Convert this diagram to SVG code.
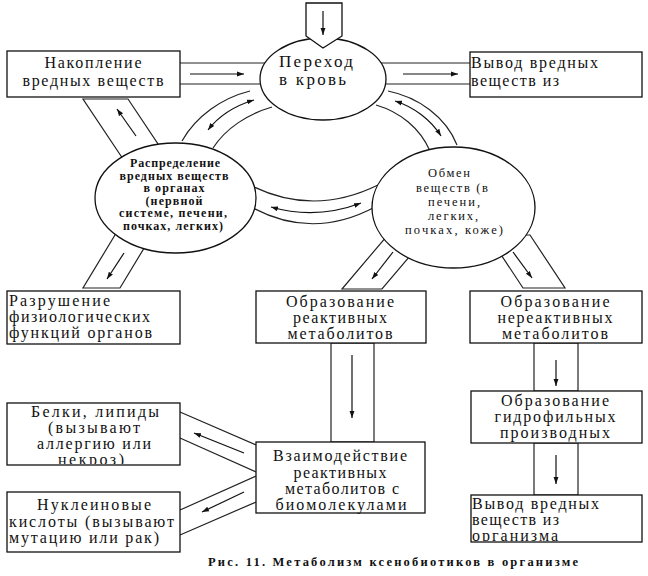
<svg xmlns="http://www.w3.org/2000/svg" width="648" height="576" viewBox="0 0 648 576">
<style>
.t{font-family:"Liberation Serif","Times New Roman",serif;font-size:16px;fill:#111}
.tb{font-family:"Liberation Serif","Times New Roman",serif;font-size:17px;fill:#111}
.s{font-family:"Liberation Serif","Times New Roman",serif;font-size:12.5px;fill:#111}
.sb{font-family:"Liberation Serif","Times New Roman",serif;font-size:12px;font-weight:bold;fill:#111}
.cap{font-family:"Liberation Serif","Times New Roman",serif;font-size:12.5px;font-weight:bold;fill:#111}
.box{fill:#fff;stroke:#111;stroke-width:1.3}
.ln{fill:none;stroke:#222;stroke-width:1.2}
.ar{fill:none;stroke:#111;stroke-width:1.2;marker-end:url(#ah)}
.ar2{fill:none;stroke:#111;stroke-width:1.2;marker-end:url(#ah);marker-start:url(#ah)}
</style>
<defs>
<marker id="ah" viewBox="0 0 10 10" refX="10" refY="5" markerWidth="7" markerHeight="7" orient="auto-start-reverse" markerUnits="userSpaceOnUse"><path d="M0,1.5 L10,5 L0,8.5 z" fill="#111"/></marker>
<clipPath id="cBelki"><rect x="8" y="404" width="171" height="60"/></clipPath>
<clipPath id="cVyvod2"><rect x="472" y="496" width="169" height="45"/></clipPath>
</defs>
<rect width="648" height="576" fill="#fff"/>

<g id="connectors">
  <path class="ln" d="M180,63 H290 M180,84 H290"/>
  <path class="ar" d="M190,74 H244"/>
  <path class="ln" d="M360,63 H470 M360,84 H470"/>
  <path class="ar" d="M403,74 H458"/>
  <path class="ln" d="M250,91 C222,98 196,116 182,141"/>
  <path class="ln" d="M272,107 C248,114 226,128 213,148"/>
  <path class="ar2" d="M208,130 C218,117 234,106 254,100"/>
  <path class="ln" d="M388,91 C418,97 446,117 457,145"/>
  <path class="ln" d="M376,105 C400,112 420,128 430,151"/>
  <path class="ar2" d="M395,101 C414,107 431,120 441,136"/>
  <path class="ln" d="M250,185 Q313,217 378,185"/>
  <path class="ln" d="M253,208 Q313,240 375,207"/>
  <path class="ar2" d="M271,207 Q316,220 361,203"/>
  <path class="ln" d="M83,99 H128 L172,165 L127,165 Z"/>
  <path class="ar" d="M136,136 L117,109"/>
  <path class="ln" d="M83,288 H120 L158,225 L121,225 Z"/>
  <path class="ar" d="M124,253 L107,279"/>
  <path class="ln" d="M342,289 H382 L432,230 L392,230 Z"/>
  <path class="ar" d="M393,252 L372,279"/>
  <path class="ln" d="M523,288 H565 L530,235 L488,235 Z"/>
  <path class="ar" d="M513,252 L532,278"/>
  <rect class="ln" x="331" y="343" width="43" height="99"/>
  <path class="ar" d="M352,355 V418"/>
  <rect class="ln" x="534" y="343" width="44" height="48"/>
  <path class="ar" d="M556,360 V386"/>
  <rect class="ln" x="534" y="443" width="44" height="52"/>
  <path class="ar" d="M556,455 V484"/>
  <path class="ln" d="M180,412 L256,445 M180,438 L256,472"/>
  <path class="ar" d="M244,453 L194,433"/>
  <path class="ln" d="M180,510 L256,476 M180,535 L256,502"/>
  <path class="ar" d="M244,492 L202,512"/>
</g>

<g id="n-perehod">
  <ellipse class="box" cx="323" cy="79" rx="63" ry="41"/>
  <text class="tb" x="279" y="67" textLength="74" lengthAdjust="spacing">Переход</text>
  <text class="tb" x="279" y="85" textLength="67" lengthAdjust="spacing">в кровь</text>
</g>
<g id="input">
  <polygon class="box" points="306,3 342,3 342,36 323,48 306,36"/>
  <path class="ar" d="M323,11 V35"/>
</g>
<g id="n-nakoplenie">
  <rect class="box" x="7" y="51" width="173" height="46"/>
  <text class="t" x="93" y="68" text-anchor="middle" textLength="97" lengthAdjust="spacing">Накопление</text>
  <text class="t" x="93" y="86" text-anchor="middle" textLength="141" lengthAdjust="spacing">вредных веществ</text>
</g>
<g id="n-vyvod1">
  <rect class="box" x="470" y="52" width="172" height="45"/>
  <text class="t" x="471" y="68" textLength="127" lengthAdjust="spacing">Вывод вредных</text>
  <text class="t" x="471" y="86" textLength="88" lengthAdjust="spacing">веществ из</text>
</g>
<g id="n-raspredelenie">
  <ellipse class="box" cx="175.5" cy="198" rx="80.5" ry="55"/>
  <text class="sb" x="175" y="167" text-anchor="middle" textLength="90" lengthAdjust="spacing">Распределение</text>
  <text class="sb" x="174" y="179.5" text-anchor="middle" textLength="109" lengthAdjust="spacing">вредных веществ</text>
  <text class="sb" x="174" y="192" text-anchor="middle" textLength="61" lengthAdjust="spacing">в органах</text>
  <text class="sb" x="174" y="204.5" text-anchor="middle" textLength="57" lengthAdjust="spacing">(нервной</text>
  <text class="sb" x="173" y="217" text-anchor="middle" textLength="108" lengthAdjust="spacing">системе, печени,</text>
  <text class="sb" x="173" y="229.5" text-anchor="middle" textLength="100" lengthAdjust="spacing">почках, легких)</text>
</g>
<g id="n-obmen">
  <ellipse class="box" cx="453.5" cy="207.5" rx="81.5" ry="60.5"/>
  <text class="s" x="449" y="177" text-anchor="middle" textLength="42" lengthAdjust="spacing">Обмен</text>
  <text class="s" x="452" y="191.5" text-anchor="middle" textLength="72" lengthAdjust="spacing">веществ (в</text>
  <text class="s" x="454" y="206" text-anchor="middle" textLength="52" lengthAdjust="spacing">печени,</text>
  <text class="s" x="453" y="220" text-anchor="middle" textLength="50" lengthAdjust="spacing">легких,</text>
  <text class="s" x="454" y="234" text-anchor="middle" textLength="98" lengthAdjust="spacing">почках, коже)</text>
</g>
<g id="n-razrushenie">
  <rect class="box" x="7" y="291" width="173" height="53"/>
  <text class="t" x="9" y="306" textLength="101" lengthAdjust="spacing">Разрушение</text>
  <text class="t" x="9" y="322" textLength="141" lengthAdjust="spacing">физиологических</text>
  <text class="t" x="9" y="338" textLength="143" lengthAdjust="spacing">функций органов</text>
</g>
<g id="n-reaktivnye">
  <rect class="box" x="256" y="291" width="170" height="52"/>
  <text class="t" x="340" y="307" text-anchor="middle" textLength="108" lengthAdjust="spacing">Образование</text>
  <text class="t" x="340" y="323" text-anchor="middle" textLength="94" lengthAdjust="spacing">реактивных</text>
  <text class="t" x="340" y="339" text-anchor="middle" textLength="105" lengthAdjust="spacing">метаболитов</text>
</g>
<g id="n-nereaktivnye">
  <rect class="box" x="470" y="291" width="172" height="52"/>
  <text class="t" x="555" y="307" text-anchor="middle" textLength="109" lengthAdjust="spacing">Образование</text>
  <text class="t" x="555" y="323" text-anchor="middle" textLength="115" lengthAdjust="spacing">нереактивных</text>
  <text class="t" x="555" y="339" text-anchor="middle" textLength="106" lengthAdjust="spacing">метаболитов</text>
</g>
<g id="n-gidrofilnye">
  <rect class="box" x="471" y="391" width="171" height="52"/>
  <text class="t" x="555" y="406" text-anchor="middle" textLength="108" lengthAdjust="spacing">Образование</text>
  <text class="t" x="555" y="422" text-anchor="middle" textLength="121" lengthAdjust="spacing">гидрофильных</text>
  <text class="t" x="555" y="438" text-anchor="middle" textLength="110" lengthAdjust="spacing">производных</text>
</g>
<g id="n-vyvod2">
  <rect class="box" x="471" y="495" width="171" height="47"/>
  <g clip-path="url(#cVyvod2)">
    <text class="t" x="472" y="509" textLength="127" lengthAdjust="spacing">Вывод вредных</text>
    <text class="t" x="472" y="525" textLength="87" lengthAdjust="spacing">веществ из</text>
    <text class="t" x="472" y="541" textLength="86" lengthAdjust="spacing">организма</text>
  </g>
</g>
<g id="n-vzaimodeistvie">
  <rect class="box" x="256" y="442" width="169" height="71"/>
  <text class="t" x="340" y="461" text-anchor="middle" textLength="134" lengthAdjust="spacing">Взаимодействие</text>
  <text class="t" x="340" y="477.5" text-anchor="middle" textLength="93" lengthAdjust="spacing">реактивных</text>
  <text class="t" x="342" y="494" text-anchor="middle" textLength="114" lengthAdjust="spacing">метаболитов с</text>
  <text class="t" x="341" y="510" text-anchor="middle" textLength="131" lengthAdjust="spacing">биомолекулами</text>
</g>
<g id="n-belki">
  <rect class="box" x="7" y="403" width="173" height="62"/>
  <g clip-path="url(#cBelki)">
    <text class="t" x="95" y="417" text-anchor="middle" textLength="128" lengthAdjust="spacing">Белки, липиды</text>
    <text class="t" x="94" y="433" text-anchor="middle" textLength="92" lengthAdjust="spacing">(вызывают</text>
    <text class="t" x="94" y="449" text-anchor="middle" textLength="114" lengthAdjust="spacing">аллергию или</text>
    <text class="t" x="91" y="465" text-anchor="middle" textLength="66" lengthAdjust="spacing">некроз)</text>
  </g>
</g>
<g id="n-nukleinovye">
  <rect class="box" x="7" y="492" width="173" height="60"/>
  <text class="t" x="94" y="510" text-anchor="middle" textLength="114" lengthAdjust="spacing">Нуклеиновые</text>
  <text class="t" x="9" y="527" textLength="165" lengthAdjust="spacing">кислоты (вызывают</text>
  <text class="t" x="9" y="543" textLength="150" lengthAdjust="spacing">мутацию или рак)</text>
</g>
<text class="cap" x="208" y="566" textLength="370" lengthAdjust="spacing">Рис. 11. Метаболизм ксенобиотиков в организме</text>
</svg>
